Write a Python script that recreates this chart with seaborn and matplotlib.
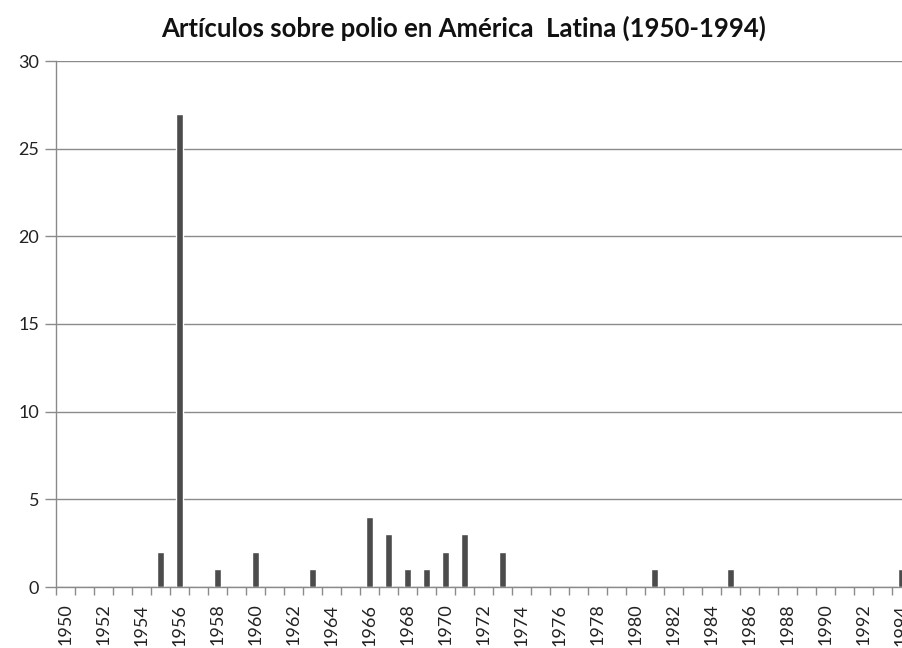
import numpy as np
import pandas as pd
import matplotlib
matplotlib.use("Agg")
import matplotlib.pyplot as plt
import seaborn as sns

# data
years = list(range(1950, 1995))
articles = [0, 0, 0, 0, 0, 2, 27, 0, 1, 0,
            2, 0, 0, 1, 0, 0, 4, 3, 1, 1,
            2, 3, 0, 2, 0, 0, 0, 0, 0, 0,
            0, 1, 0, 0, 0, 1, 0, 0, 0, 0,
            0, 0, 0, 0, 1]
y_ticks = [0, 5, 10, 15, 20, 25, 30]

title = "Artículos sobre polio en América  Latina (1950-1994)"

sns.set_theme(style="white")
plt.rcParams["font.family"] = ["Lato", "DejaVu Sans"]

df = pd.DataFrame({"year": years, "n": articles})

fig = plt.figure(figsize=(9.03, 6.48), dpi=100)
# the original is cropped on the right, so the axes run past the figure edge
ax = fig.add_axes([56 / 903, 61 / 648, 855 / 903, 526 / 648])

sns.barplot(data=df, x="year", y="n", order=years, color="#4c4c4c",
            saturation=1, width=0.37, ax=ax)

ax.set_xlim(-0.5, len(years) - 0.5)
ax.set_ylim(0, 30)
ax.set_yticks(y_ticks)
ax.set_yticklabels([str(v) for v in y_ticks], fontsize=13, color="#222222")
ax.yaxis.grid(True, color="#8a8a8a", linewidth=1)
ax.set_axisbelow(True)

# labels every second year, tick marks between the categories
idx = np.arange(0, len(years), 2)
ax.set_xticks(idx)
ax.set_xticklabels([str(years[i]) for i in idx], rotation=90, fontsize=13,
                   color="#222222")
ax.set_xticks(np.arange(len(years) + 1) - 0.5, minor=True)
ax.tick_params(axis="x", which="major", length=0, pad=12)
ax.tick_params(axis="x", which="minor", length=6, width=1, color="#8a8a8a",
               direction="out", bottom=True)
ax.tick_params(axis="y", length=8, width=1, color="#8a8a8a", left=True, pad=4)

for side in ["top", "right"]:
    ax.spines[side].set_visible(False)
for side in ["left", "bottom"]:
    ax.spines[side].set_color("#8a8a8a")
    ax.spines[side].set_linewidth(1)

ax.set_xlabel("")
ax.set_ylabel("")

fig.text(464 / 903, 1 - 28 / 648, title, ha="center", va="center",
         fontsize=18.5, fontweight="bold", color="#111111")

fig.savefig("out.png", dpi=100)
